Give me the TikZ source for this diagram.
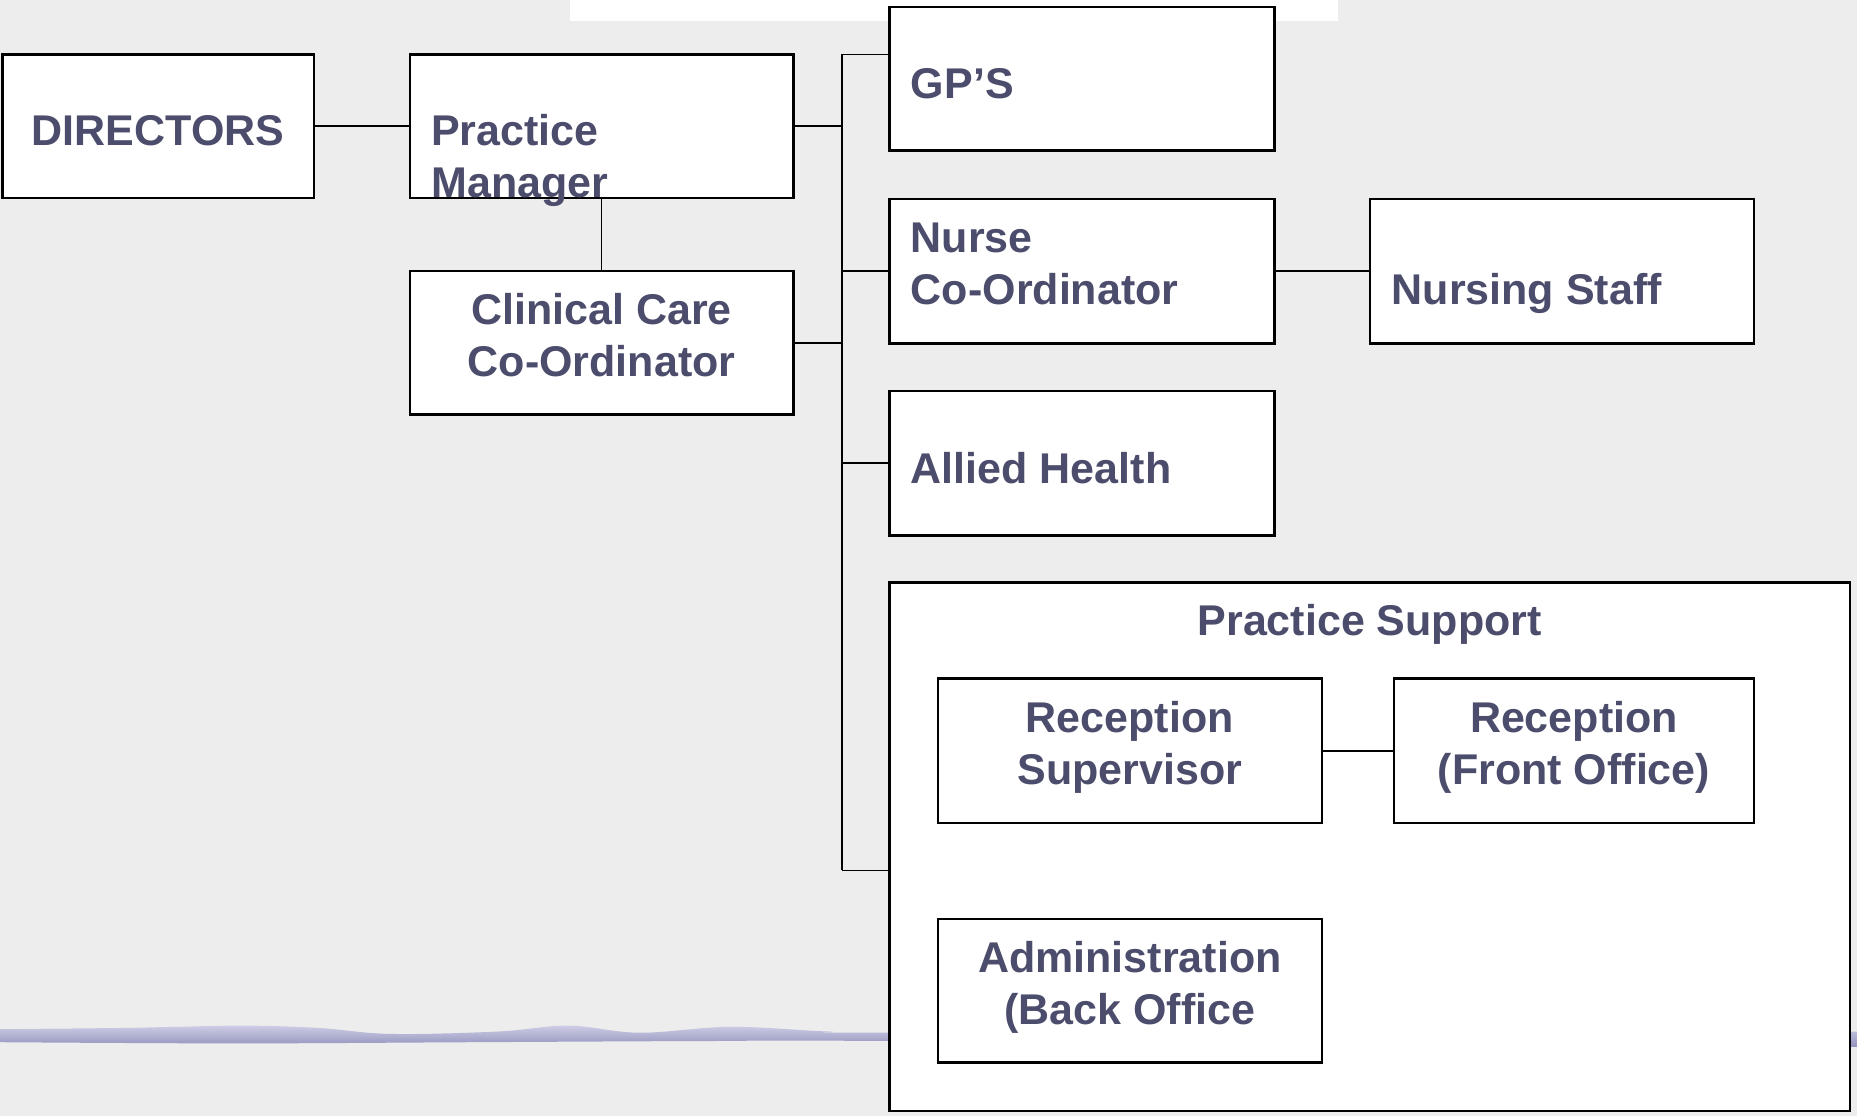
\documentclass[tikz,border=0pt]{standalone}
\usepackage{fontspec}
\setmainfont{Liberation Sans}
\definecolor{txt}{RGB}{76,76,108}
\definecolor{bg}{RGB}{237,237,237}
\definecolor{wavetop}{RGB}{205,205,230}
\definecolor{wavebot}{RGB}{145,145,188}
\begin{document}
\begin{tikzpicture}[x=1.1843pt,y=-1.1843pt,
  box/.style={draw=black, fill=white, line width=2.4pt, rectangle, inner sep=0pt},
  bx/.style 2 args={box, minimum width={#1*1.1843pt}, minimum height={#2*1.1843pt}},
  conn/.style={line width=1.6pt, draw=black},
  lbl/.style={text=txt, font=\bfseries\fontsize{43}{52}\selectfont, inner sep=0pt, align=left},
  clbl/.style={lbl, align=center}]
\useasboundingbox (0,0) rectangle (1568,942);
\fill[bg] (0,0) rectangle (1568,942);
% decorative wave
\path[top color=wavetop, bottom color=wavebot]
  plot[smooth, tension=0.6] coordinates {(0,869) (100,868) (150,867) (210,866) (270,868) (330,873) (420,871) (480,866) (540,872) (617,867) (700,871) (760,872) (1568,871)}
  -- (1568,884)
  -- plot[smooth, tension=0.6] coordinates {(1568,884) (760,879) (600,879) (400,880) (200,881) (0,880)}
  -- cycle;
\fill[white] (481,0) rectangle (1130,18);
% boxes
\node[bx={263}{121}] (dir) at (133.5,106.5) {};
\node[bx={324}{121}] (pm)  at (508,106.5) {};
\node[bx={324}{121}] (ccc) at (508,289.5) {};
\node[bx={325}{121}] (gp)  at (913.5,66.5) {};
\node[bx={325}{122}] (nc)  at (913.5,229) {};
\node[bx={324}{122}] (ns)  at (1319,229) {};
\node[bx={325}{122}] (ah)  at (913.5,391) {};
\node[bx={811}{446}] (ps)  at (1156.5,715) {};
\node[bx={324}{122}] (rs)  at (954,634) {};
\node[bx={304}{122}] (rf)  at (1329,634) {};
\node[bx={324}{121}] (adm) at (954,836.5) {};
% connectors
\coordinate (sTop) at (711,46);
\coordinate (sBot) at (711,735);
\draw[conn] (sTop) -- (sBot);
\draw[conn] (sTop) -- (sTop -| gp.west);
\draw[conn] (pm.east) -- (pm.east -| sTop);
\draw[conn] (ccc.east) -- (ccc.east -| sTop);
\draw[conn] (nc.west) -- (nc.west -| sTop);
\draw[conn] (ah.west) -- (ah.west -| sTop);
\draw[conn] (sBot) -- (sBot -| ps.west);
\draw[conn] (dir) -- (pm);
\draw[conn] (pm) -- (ccc);
\draw[conn] (nc) -- (ns);
\draw[conn] (rs) -- (rf);
% texts (base anchor = baseline of the last line)
\node[lbl, anchor=base] (tdir) at (133.5,123) {DIRECTORS};
\node[lbl, anchor=base west] (tpm) at (364,167) {Practice\\Manager};
\node[clbl, anchor=base] (tccc) at (508,318) {Clinical Care\\Co-Ordinator};
\node[lbl, anchor=base west] (tgp) at (769,83) {GP’S};
\node[lbl, anchor=base west] (tnc) at (769,257) {Nurse\\Co-Ordinator};
\node[lbl, anchor=base west] (tns) at (1175,257) {Nursing Staff};
\node[lbl, anchor=base west] (tah) at (769,408) {Allied Health};
\node[lbl, anchor=base] (tps) at (1156.5,537) {Practice Support};
\node[clbl, anchor=base] (trs) at (954,662) {Reception\\Supervisor};
\node[clbl, anchor=base] (trf) at (1329,662) {Reception\\(Front Office)};
\node[clbl, anchor=base] (tadm) at (954,865) {Administration\\(Back Office};
\end{tikzpicture}
\end{document}
